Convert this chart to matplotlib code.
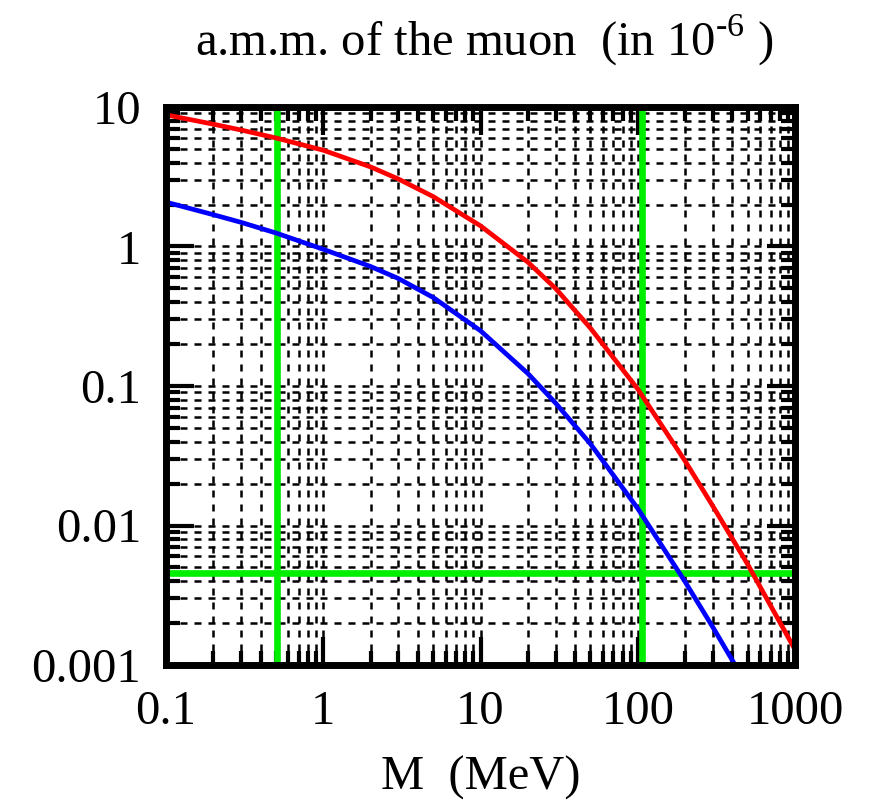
import matplotlib
matplotlib.use("Agg")
import matplotlib.pyplot as plt
from matplotlib.ticker import LogLocator, NullFormatter

# masses (MeV) and the two curves
mass = [0.1, 0.2, 0.3, 0.5, 1, 2, 3, 5, 10, 20, 30, 50, 100, 200, 300, 500, 1000]
red_curve = [8.79, 7.53, 6.84, 6.0, 4.90, 3.72, 3.05, 2.28, 1.406, 0.773, 0.501, 0.260,
             0.0951, 0.0290, 0.0138, 0.00527, 0.00129]
blue_curve = [2.08, 1.69, 1.49, 1.25, 0.955, 0.719, 0.590, 0.431, 0.249, 0.123, 0.0755,
              0.0385, 0.01324, 0.00395, 0.00187, 0.000703, 0.000179]

# reference lines: electron mass, muon mass, horizontal level
m_electron = 0.511
m_muon = 105.66
level = 0.0046

xticks = [0.1, 1, 10, 100, 1000]
xtick_labels = ["0.1", "1", "10", "100", "1000"]
yticks = [0.001, 0.01, 0.1, 1, 10]
ytick_labels = ["0.001", "0.01", "0.1", "1", "10"]

plt.rcParams['font.family'] = ['Liberation Serif', 'DejaVu Serif']
plt.rcParams['mathtext.fontset'] = 'custom'
plt.rcParams['mathtext.rm'] = 'Liberation Serif'

W, H = 872, 805
fig = plt.figure(figsize=(W / 100, H / 100), dpi=100)
ax = fig.add_axes([166 / W, 1 - 665 / H, (795 - 166) / W, (665 - 107) / H])

ax.set_xscale('log')
ax.set_yscale('log')
ax.set_xlim(0.1, 1000)
ax.set_ylim(0.001, 10)

ax.axvline(m_electron, color='#00ee00', lw=4.8, zorder=3)
ax.axvline(m_muon, color='#00ee00', lw=4.8, zorder=3)
ax.axhline(level, color='#00ee00', lw=4.8, zorder=3)

ax.plot(mass, red_curve, color='#ff0000', lw=3.4, zorder=4)
ax.plot(mass, blue_curve, color='#0000ff', lw=3.4, zorder=4)

ax.set_xticks(xticks)
ax.set_xticklabels(xtick_labels)
ax.set_yticks(yticks)
ax.set_yticklabels(ytick_labels)
for axis in (ax.xaxis, ax.yaxis):
    axis.set_minor_locator(LogLocator(base=10, subs=range(2, 10), numticks=20))
    axis.set_minor_formatter(NullFormatter())

ax.tick_params(which='both', direction='in', top=True, right=True, color='black')
ax.tick_params(which='major', length=20, width=3, labelsize=35, pad=18)
ax.tick_params(which='minor', length=10, width=3)

ax.grid(True, which='both', color='black', linestyle=(0, (2.8, 2.8)), linewidth=1.8, zorder=1)
for sp in ax.spines.values():
    sp.set_linewidth(5)
    sp.set_zorder(5)

ax.set_xlabel("M  (MeV)", fontsize=35, labelpad=16)
fig.text(484 / W, 1 - 40 / H, "a.m.m. of the muon  (in 10$^{\\mathregular{\u20106}}$ )",
         fontsize=35, ha='center', va='center')

fig.savefig("out.png", dpi=100)
